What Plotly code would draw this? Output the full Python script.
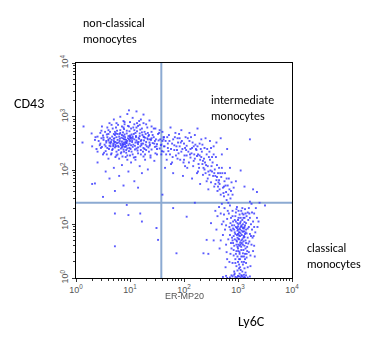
import plotly.graph_objects as go

# Estimated log10 coordinates (ER-MP20 / Ly6C on x, CD43 on y)
non_classical = [
(0.95,2.55),(1.02,2.61),(0.88,2.48),(1.10,2.70),(0.79,2.52),(0.93,2.38),(1.21,2.57),(0.85,2.66),(1.05,2.44),(0.70,2.59),
(0.99,2.73),(1.15,2.49),(0.62,2.46),(0.91,2.62),(1.30,2.53),(0.83,2.41),(1.08,2.58),(0.74,2.69),(1.18,2.64),(0.97,2.47),
(0.56,2.55),(1.25,2.42),(0.89,2.77),(1.03,2.35),(0.67,2.63),(1.12,2.56),(0.81,2.59),(1.37,2.48),(0.94,2.51),(0.72,2.43),
(1.00,2.65),(1.22,2.71),(0.60,2.68),(0.86,2.50),(1.14,2.37),(0.77,2.57),(1.06,2.80),(0.92,2.44),(1.28,2.61),(0.69,2.50),
(0.98,2.58),(0.84,2.34),(1.16,2.53),(0.51,2.61),(1.09,2.46),(0.76,2.74),(1.33,2.58),(0.90,2.67),(1.01,2.40),(0.65,2.53),
(1.19,2.45),(0.87,2.60),(0.96,2.83),(1.42,2.51),(0.73,2.48),(1.04,2.53),(0.82,2.70),(1.24,2.50),(0.58,2.42),(1.11,2.64),
(0.93,2.57),(0.78,2.46),(1.35,2.66),(0.88,2.39),(1.07,2.68),(0.63,2.72),(1.17,2.59),(0.99,2.42),(0.80,2.63),(1.46,2.44),
(0.70,2.55),(1.13,2.73),(0.91,2.49),(0.55,2.36),(1.26,2.56),(0.85,2.54),(1.02,2.47),(0.75,2.62),(1.20,2.38),(0.97,2.64),
(0.45,2.50),(1.31,2.45),(0.89,2.58),(1.05,2.60),(0.68,2.40),(1.39,2.57),(0.83,2.47),(1.10,2.52),(0.94,2.69),(0.60,2.58),
(1.23,2.66),(0.79,2.38),(1.00,2.55),(1.50,2.49),(0.72,2.66),(1.15,2.43),(0.87,2.71),(0.40,2.63),(1.27,2.40),(0.92,2.53),
(1.06,2.48),(0.66,2.57),(1.18,2.69),(0.84,2.61),(1.53,2.56),(0.76,2.51),(0.98,2.36),(1.34,2.43),(0.53,2.48),(1.08,2.75),
(0.90,2.44),(1.21,2.47),(0.71,2.60),(1.44,2.62),(0.86,2.45),(1.03,2.67),(0.62,2.52),(1.29,2.68),(0.95,2.41),(0.81,2.55),
(0.35,2.57),(1.12,2.41),(0.88,2.64),(1.40,2.39),(0.74,2.45),(1.01,2.59),(0.57,2.67),(1.25,2.63),(0.93,2.46),(1.57,2.47),
(0.69,2.47),(1.16,2.61),(0.82,2.50),(0.48,2.44),(1.36,2.52),(0.96,2.60),(1.09,2.39),(0.77,2.68),(1.48,2.58),(0.85,2.43),
(0.30,2.45),(1.20,2.55),(0.99,2.50),(0.64,2.45),(1.32,2.60),(0.89,2.52),(1.05,2.63),(0.73,2.53),(1.55,2.41),(0.91,2.58),
(0.88,2.92),(1.05,2.98),(0.75,2.88),(1.20,2.95),(0.95,3.05),(1.30,2.86),(0.66,2.85),(1.12,3.10),(0.82,3.00),(1.40,2.82),
(0.58,2.80),(1.00,2.90),(1.25,3.04),(0.70,2.95),(1.47,2.78),(0.90,2.86),(1.15,2.83),(0.47,2.74),(1.36,2.93),(0.98,3.12),
(0.92,2.25),(1.10,2.20),(0.75,2.28),(1.28,2.30),(0.60,2.22),(1.02,2.15),(0.85,2.10),(1.38,2.24),(0.50,2.30),(1.18,2.08),
(0.70,2.05),(0.97,1.98),(1.45,2.18),(0.80,1.90),(1.22,1.95),(0.62,1.85),(1.08,1.80),(0.40,2.15),(1.33,2.02),(0.88,1.72),
(0.55,1.98),(1.15,1.68),(0.72,1.62),(0.30,1.75),(1.00,2.28),(0.83,2.32),(1.25,2.26),(0.66,2.32),(1.50,2.30),(0.95,2.20),
(0.45,2.70),(1.55,2.75),(0.62,2.88),(1.35,2.35),(0.38,2.40),(1.62,2.62),(0.80,2.22),(1.18,2.85),(0.52,2.33),(1.45,2.50),
(0.68,2.78),(1.28,2.20),(0.42,2.55),(1.58,2.30),(0.90,2.90),(1.10,2.25),(0.58,2.62),(1.40,2.72),(0.75,2.35),(1.22,2.78),
(0.48,2.82),(1.50,2.40),(0.65,2.30),(1.32,2.80),(0.85,2.82),(1.05,2.30),(0.55,2.45),(1.60,2.55),(0.72,2.72),(1.15,2.32),
(0.40,2.35),(1.42,2.66),(0.95,2.28),(1.25,2.88),(0.60,2.75),(1.38,2.28),(0.78,2.85),(1.08,2.86),(0.50,2.65),(1.52,2.68),
(0.67,2.38),(1.30,2.38),(0.88,2.80),(1.17,2.92),(0.44,2.47),(1.63,2.45),(0.73,2.25),(1.27,2.72),(0.56,2.52),(1.47,2.32),
(0.82,2.75),(1.12,2.80),(0.63,2.60),(1.36,2.46),(0.93,2.33),(1.20,2.30),(0.47,2.60),(1.56,2.58),(0.70,2.68),(1.02,2.78),
(0.36,2.62),(1.44,2.78),(0.77,2.30),(1.33,2.70),(0.54,2.72),(1.49,2.45),(0.86,2.26),(1.13,2.88),(0.61,2.40),(1.40,2.60),
(0.98,2.82),(1.07,2.24),(0.46,2.42),(1.59,2.36),(0.74,2.80),(1.24,2.35),(0.57,2.30),(1.34,2.64),(0.89,2.35),(1.19,2.76),
(0.64,2.50),(1.46,2.55),(0.81,2.68),(1.29,2.48),(0.51,2.57),(1.54,2.70),(0.69,2.45),(1.11,2.62),(0.94,2.74),(1.37,2.58),
(0.60,2.56),(1.26,2.62),(0.79,2.44),(1.04,2.56),(0.87,2.48),(1.14,2.52),(0.71,2.52),(1.00,2.62),(0.93,2.52),(1.21,2.50),
]

intermediate = [
(1.58,2.48),(1.62,2.35),(1.66,2.55),(1.70,2.42),(1.63,2.62),(1.74,2.30),(1.78,2.50),(1.72,2.66),(1.82,2.38),(1.68,2.20),
(1.86,2.45),(1.80,2.58),(1.90,2.32),(1.76,2.12),(1.94,2.52),(1.88,2.22),(1.97,2.40),(1.84,2.70),(2.01,2.28),(1.92,2.60),
(2.05,2.46),(1.99,2.15),(2.08,2.35),(2.03,2.62),(2.12,2.24),(2.06,2.05),(2.15,2.42),(2.10,2.55),(2.18,2.18),(2.14,2.32),
(2.21,2.48),(2.17,2.08),(2.24,2.27),(2.20,2.66),(2.27,2.12),(2.23,2.38),(2.30,2.20),(2.26,1.98),(2.33,2.35),(2.29,2.50),
(2.36,2.05),(2.32,2.25),(2.39,2.15),(2.35,1.92),(2.42,2.30),(2.38,2.42),(2.45,1.98),(2.41,2.10),(2.48,2.20),(2.44,1.85),
(2.51,2.08),(2.47,2.35),(2.54,1.90),(2.50,1.78),(2.57,2.02),(2.53,2.15),(2.60,1.82),(2.56,1.70),(2.63,1.95),(2.59,2.25),
(2.66,1.75),(2.62,1.62),(2.69,1.88),(2.65,2.05),(2.72,1.68),(2.68,1.55),(2.75,1.80),(2.71,1.95),(2.78,1.60),(2.81,1.72),
(1.60,2.72),(1.75,2.80),(1.95,2.75),(2.10,2.70),(2.25,2.78),(2.40,2.60),(2.55,2.45),(2.70,2.30),(2.85,2.05),(2.80,2.40),
(1.65,2.05),(1.80,1.95),(1.98,1.90),(2.15,1.85),(2.30,1.75),(2.45,1.65),(2.00,2.50),(1.85,2.28),(2.22,2.40),(2.37,2.22),
(2.58,1.90),(2.74,1.52),(2.87,1.62),(2.64,1.78),(2.49,2.00),(2.34,2.12),(2.19,2.30),(2.04,2.38),(1.89,2.52),(1.71,2.36),
(2.96,1.80),(3.05,2.00),(2.90,1.55),(3.12,1.70),(3.28,1.65),(2.83,1.85),(2.60,2.52),(2.48,2.55),(2.68,2.60),(3.22,2.58),
(1.70,2.50),(1.82,2.47),(1.95,2.35),(2.05,2.28),(2.12,2.40),(2.26,2.30),(2.35,2.18),(2.44,2.08),(2.52,1.98),(2.61,1.88),
(1.76,2.40),(1.88,2.60),(2.00,2.20),(2.18,2.45),(2.31,2.40),(2.46,2.25),(2.58,1.75),(2.66,1.65),(2.77,1.72),(2.73,1.58),
(1.64,2.45),(1.92,2.45),(2.09,2.15),(2.28,2.05),(2.40,1.95),(2.55,2.30),(2.67,1.95),(2.82,1.55),(2.79,1.45),(2.86,1.48),
(1.62,2.58),(1.67,2.30),(1.73,2.55),(1.79,2.25),(1.83,2.62),(1.87,2.38),(1.93,2.20),(1.96,2.55),(2.02,2.42),(2.07,2.60),
(2.11,2.30),(2.16,2.52),(2.20,2.22),(2.25,2.45),(2.29,2.28),(2.34,2.48),(2.38,2.02),(2.43,2.40),(2.47,1.92),(2.52,2.25),
(2.56,1.95),(2.61,2.10),(2.65,1.82),(2.70,2.05),(2.74,1.70),(2.79,1.85),(2.84,1.65),(2.88,1.78),(2.92,1.68),(2.76,1.95),
(1.69,2.62),(1.91,2.68),(2.13,2.62),(2.32,2.58),(2.50,2.42),(1.78,2.15),(2.02,2.08),(2.24,1.95),(2.42,1.80),(2.63,1.70),
]

classical = [
(3.02,0.85),(3.08,0.72),(2.96,0.95),(3.12,0.60),(3.05,1.05),(2.92,0.78),(3.15,0.90),(3.00,0.55),(3.10,1.12),(2.98,0.68),
(3.06,0.98),(2.88,0.88),(3.18,0.75),(3.03,0.45),(2.94,1.08),(3.13,0.82),(3.01,0.62),(3.09,1.00),(2.90,0.70),(3.16,1.15),
(3.04,0.78),(2.97,0.50),(3.11,0.92),(2.86,1.02),(3.07,0.65),(2.99,0.88),(3.20,0.95),(3.03,1.18),(2.93,0.60),(3.14,0.70),
(3.00,0.96),(3.08,0.40),(2.91,0.92),(3.17,0.58),(3.05,0.83),(2.95,1.15),(3.12,1.04),(3.02,0.35),(2.89,0.75),(3.10,0.52),
(3.06,1.25),(2.98,0.80),(3.22,0.82),(3.04,0.66),(2.84,0.95),(3.13,0.45),(3.00,1.08),(3.09,0.86),(2.92,0.42),(3.19,1.08),
(3.03,0.92),(2.96,1.22),(3.15,0.65),(3.07,0.30),(2.87,1.12),(3.11,0.78),(3.01,0.73),(3.24,1.00),(2.94,0.85),(3.08,1.30),
(2.99,0.58),(3.16,0.38),(3.05,1.12),(2.90,1.25),(3.12,0.95),(3.02,0.25),(3.18,1.22),(2.97,0.70),(3.06,0.52),(2.83,1.20),
(3.10,1.18),(3.00,0.82),(3.21,0.68),(2.93,0.98),(3.14,0.85),(3.04,0.20),(2.95,0.35),(3.09,0.62),(3.26,0.90),(2.88,0.55),
(3.01,1.00),(3.17,0.50),(3.07,0.88),(2.91,1.05),(3.13,1.28),(3.03,0.48),(2.98,1.32),(3.11,0.40),(3.20,1.30),(2.85,0.80),
(3.05,0.15),(3.15,0.28),(2.97,0.22),(3.08,0.12),(3.00,0.30),(3.12,0.18),(2.93,0.12),(3.18,0.20),(3.03,0.08),(2.90,0.28),
(2.75,1.30),(2.80,1.10),(2.70,1.38),(2.78,0.98),(2.68,1.20),(2.82,1.40),(2.73,1.05),(2.65,1.32),(2.85,1.35),(2.62,1.15),
(3.25,1.38),(3.30,1.20),(3.28,1.05),(3.32,0.85),(3.22,1.42),(3.35,1.12),(3.27,0.75),(3.30,0.60),(2.78,0.62),(2.72,0.80),
(2.60,0.90),(2.50,1.02),(2.55,0.70),(2.45,0.45),(2.80,0.35),(3.38,1.05),(3.40,1.40),(2.58,1.25),(2.66,0.55),(3.23,0.42),
(3.04,0.90),(3.07,0.80),(2.99,1.02),(3.10,0.68),(3.02,0.72),(3.13,0.98),(2.95,0.82),(3.06,0.58),(3.01,1.12),(3.09,0.93),
(2.97,0.62),(3.12,0.76),(3.05,0.95),(2.93,0.90),(3.16,0.83),(3.03,0.60),(3.08,1.08),(2.99,0.75),(3.14,0.55),(3.00,0.90),
(3.06,0.70),(2.96,1.05),(3.11,0.87),(3.04,1.02),(2.91,0.65),(3.18,0.92),(3.02,0.79),(3.09,0.46),(2.98,0.93),(3.15,1.02),
(3.05,0.62),(2.94,0.72),(3.12,1.12),(3.01,0.50),(3.07,0.96),(2.89,0.98),(3.19,0.64),(3.03,0.85),(3.10,0.75),(2.96,0.45),
(3.06,0.40),(3.13,0.35),(2.99,0.40),(3.02,0.18),(3.09,0.25),(3.16,0.45),(2.95,0.28),(3.11,0.30),(3.04,0.35),(2.92,0.52),
(3.20,0.48),(2.87,0.65),(3.22,1.12),(2.86,0.90),(3.24,0.78),(3.08,1.20),(2.97,1.28),(3.14,1.20),(2.90,1.15),(3.01,1.25),
(2.76,0.90),(3.30,0.95),(2.82,0.72),(3.28,0.50),(2.70,1.00),(3.33,1.30),(2.79,0.48),(3.25,0.62),(2.74,1.18),(3.31,0.40),
(2.84,0.30),(3.26,1.22),(2.68,0.70),(3.36,0.95),(2.81,1.25),(3.23,0.22),(2.77,0.20),(3.29,0.78),(2.86,0.45),(3.21,1.20),
]

bottom_edge = [
(2.72,0.02),(2.78,0.04),(2.85,0.01),(2.90,0.03),(2.95,0.02),(3.00,0.04),(3.05,0.01),(3.08,0.03),(3.12,0.02),(3.15,0.05),
(3.18,0.01),(2.98,0.01),(3.02,0.03),(2.88,0.05),(3.10,0.00),(3.22,0.03),(2.80,0.00),(2.93,0.06),(3.06,0.05),(3.13,0.00),
(2.94,0.08),(3.07,0.05),(3.14,0.10),(2.99,0.14),(3.11,0.06),
]

scattered = [
(0.94,1.36),(0.97,1.17),(0.72,1.20),(1.19,1.20),(1.22,1.05),(0.72,0.59),(1.52,0.71),(1.49,0.93),(1.86,0.46),(2.36,0.46),
(2.42,0.71),(0.50,1.51),(0.35,1.76),(2.05,1.14),(3.50,1.35),(3.35,1.60),(0.14,2.82),(0.12,2.52),(0.29,2.69),(1.80,1.30),
(2.20,1.40),(1.60,1.55),
]

quadrant_x = 38     # ER-MP20 gate
quadrant_y = 25     # CD43 gate
tick_vals = [1, 10, 100, 1000, 10000]
tick_text = ["10<sup>0</sup>", "10<sup>1</sup>", "10<sup>2</sup>", "10<sup>3</sup>", "10<sup>4</sup>"]
minor_vals = [m * 10 ** d for d in range(4) for m in range(2, 10)]

all_pts = non_classical + intermediate + classical + bottom_edge + scattered
xs = [10 ** p[0] for p in all_pts]
ys = [10 ** p[1] for p in all_pts]

fig = go.Figure()
fig.add_trace(go.Scattergl(
    x=xs, y=ys, mode="markers",
    marker=dict(symbol="square", size=2.1, color="rgb(50,50,255)", opacity=0.8, line=dict(width=0)),
    showlegend=False, hoverinfo="skip"))
fig.add_trace(go.Scatter(x=[quadrant_x, quadrant_x], y=[1, 10000], mode="lines",
                         line=dict(color="rgb(140,170,210)", width=2), showlegend=False, hoverinfo="skip"))
fig.add_trace(go.Scatter(x=[1, 10000], y=[quadrant_y, quadrant_y], mode="lines",
                         line=dict(color="rgb(140,170,210)", width=2), showlegend=False, hoverinfo="skip"))

axis_common = dict(
    type="log", range=[0, 4], tickmode="array", tickvals=tick_vals, ticktext=tick_text,
    showgrid=False, zeroline=False, showline=True, linecolor="black", linewidth=1, mirror=True,
    ticks="outside", ticklen=3, tickcolor="#333",
    tickfont=dict(family="Liberation Sans, Arial", size=9, color="#555"),
    minor=dict(tickvals=minor_vals, ticks="outside", ticklen=2, tickcolor="#333", showgrid=False),
)
fig.update_xaxes(**axis_common)
fig.update_yaxes(**axis_common, tickangle=-90)

W, H = 383, 338
L, R, T, B = 76, 292, 63, 278

def px(x):
    return (x - L) / (R - L)

def py(y):
    return (B - y) / (B - T)

lab_font = dict(family="Carlito, Lato, Open Sans, sans-serif", size=12, color="black")
annotations = [
    dict(text="non-classical<br>monocytes", x=px(81), y=py(14), xanchor="left", yanchor="top", align="left", font=lab_font),
    dict(text="CD43", x=px(12), y=py(103), xanchor="left", yanchor="middle", font=dict(lab_font, size=14)),
    dict(text="intermediate<br>monocytes", x=px(209), y=py(91), xanchor="left", yanchor="top", align="left", font=lab_font),
    dict(text="classical<br>monocytes", x=px(305), y=py(239), xanchor="left", yanchor="top", align="left", font=lab_font),
    dict(text="ER-MP20", x=px(184), y=py(296), xanchor="center", yanchor="middle",
         font=dict(family="Liberation Sans, Arial", size=9, color="#555")),
    dict(text="Ly6C", x=px(251), y=py(321), xanchor="center", yanchor="middle", font=dict(lab_font, size=14)),
]
for a in annotations:
    a.update(xref="paper", yref="paper", showarrow=False)

fig.update_layout(
    width=W, height=H, margin=dict(l=L, r=W - R, t=T, b=H - B),
    paper_bgcolor="white", plot_bgcolor="white", annotations=annotations,
)
fig.write_html("out.html", config={"displayModeBar": False},
               post_script="document.body.style.margin='0';document.body.style.padding='0';")
